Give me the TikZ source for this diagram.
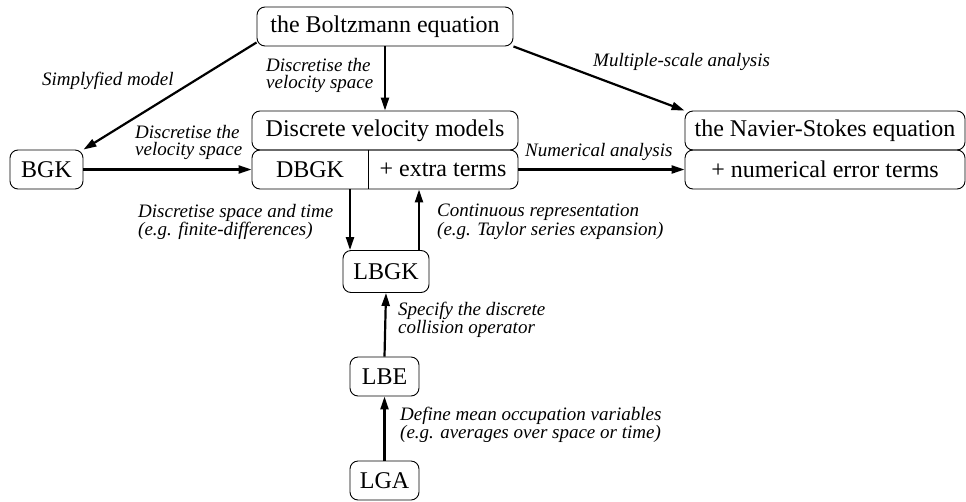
\documentclass[tikz,border=0pt]{standalone}
\usepackage{fontspec}
\setmainfont{Liberation Serif}
\usetikzlibrary{arrows.meta}

\tikzset{
  box/.style={draw, line width=0.9pt, rounded corners=8pt, inner sep=0pt,
    minimum height=39pt, font=\fontsize{24}{28}\selectfont},
  plain/.style={inner sep=0pt, minimum height=39pt, font=\fontsize{24}{28}\selectfont},
  flow/.style={line width=2.2pt, -{Triangle[length=13pt,width=8pt]}},
  lab/.style={inner sep=0pt, anchor=north west, align=left,
    font=\fontsize{19}{16}\selectfont\itshape},
  lablong/.style={lab, font=\fontsize{19}{17.5}\selectfont\itshape},
}

\begin{document}
\begin{tikzpicture}[x=1pt, y=-1pt]
\useasboundingbox (0,0) rectangle (966,501);

% main boxes
\node[box, minimum width=256pt] (boltz) at (385,26.5) {the Boltzmann equation};
\node[box, minimum width=266pt] (dvm) at (385,130.5) {Discrete velocity models};
\node[box, minimum width=266pt] (lower) at (385,169.5) {};
\node[plain, minimum width=116pt] (dbgk) at (310,169.5) {DBGK};
\node[plain, minimum width=150pt] (extra) at (443,169.5) {+ extra terms};
\draw[line width=0.9pt] (dbgk.north east) -- (dbgk.south east);

\node[box, minimum width=280pt] (ns) at (825,130.5) {the Navier-Stokes equation};
\node[box, minimum width=280pt] (nserr) at (825,169.5) {+ numerical error terms};

\node[box, minimum width=73pt] (bgk) at (46.5,169.5) {BGK};
\node[box, minimum width=86pt, minimum height=42pt] (lbgk) at (386,271.5) {LBGK};
\node[box, minimum width=69pt] (lbe) at (384.5,376.5) {LBE};
\node[box, minimum width=69pt] (lga) at (384.5,480.5) {LGA};

% columns of the two vertical links between DBGK and LBGK
\coordinate (dnx) at (350,0);
\coordinate (upx) at (419,0);

% connectors
\draw[flow] (boltz.south) -- (dvm.north);
\draw[flow] ([yshift=4pt]boltz.south west) -- (bgk.north east);
\draw[flow] (boltz.south east) -- (ns.north west);
\draw[flow] (bgk.east) -- (lower.west);
\draw[flow] (lower.east) -- (nserr.west);
\draw[flow] (lower.south -| dnx) -- (lbgk.north -| dnx);
\draw[flow] (lbgk.north -| upx) -- (lower.south -| upx);
\draw[flow] (lbe.north) -- (lbgk.south);
\draw[flow] (lga.north) -- (lbe.south);

% labels
\node[lab] (lsimp) at (42,72) {Simplyfied model};
\node[lablong] (ldv1) at (135,125) {Discretise the\\velocity space};
\node[lablong] (ldv2) at (266,58) {Discretise the\\velocity space};
\node[lab] (lmsa) at (593,53) {Multiple-scale analysis};
\node[lab] (lnum) at (525,143) {Numerical analysis};
\node[lab] (ldst) at (138,204) {Discretise space and time\\(e.g. finite-differences)};
\node[lab] (lcr) at (437,204) {Continuous representation\\(e.g. Taylor series expansion)};
\node[lab] (lspec) at (398,302) {Specify the discrete\\collision operator};
\node[lab] (ldef) at (400,407) {Define mean occupation variables\\(e.g. averages over space or time)};
\end{tikzpicture}
\end{document}
